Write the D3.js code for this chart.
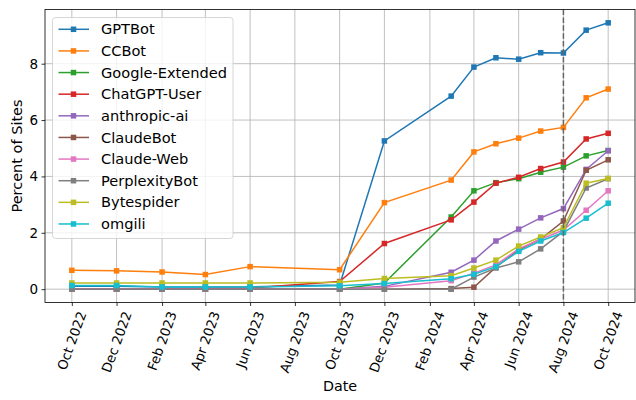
<!DOCTYPE html>
<html>
<head>
<meta charset="utf-8">
<script src="https://d3js.org/d3.v7.min.js"></script>
<style>
  body { margin: 0; background: #fff; }
  svg text { font-family: "DejaVu Sans", sans-serif; fill: #000; }
</style>
</head>
<body>
<svg id="chart" width="636" height="400"></svg>
<script>
// data
var dates = ["2022-10-01","2022-12-01","2023-02-01","2023-04-01","2023-06-01","2023-10-01","2023-12-01",
  "2024-03-01","2024-04-01","2024-05-01","2024-06-01","2024-07-01","2024-08-01","2024-09-01","2024-10-01"];

var seriesNames = ["GPTBot","CCBot","Google-Extended","ChatGPT-User","anthropic-ai","ClaudeBot","Claude-Web","PerplexityBot","Bytespider","omgili"];

var gptbot      = [0.10,0.10,0.08,0.08,0.08,0.15,5.26,6.85,7.88,8.21,8.16,8.39,8.38,9.19,9.45];
var ccbot       = [0.67,0.65,0.61,0.52,0.80,0.69,3.07,3.87,4.87,5.16,5.36,5.61,5.74,6.79,7.10];
var googleExt   = [0,0,0,0,0,0,0.22,2.56,3.49,3.78,3.92,4.15,4.33,4.73,4.92];
var chatgptUser = [0,0,0.01,0.02,0.04,0.27,1.62,2.46,3.09,3.76,3.97,4.28,4.51,5.33,5.53];
var anthropicAi = [0,0,0,0,0,0,0.10,0.60,1.03,1.71,2.13,2.53,2.86,4.25,4.91];
var claudeBot   = [0,0,0,0,0,0,0,0.02,0.07,0.78,1.40,1.78,2.42,4.22,4.59];
var claudeWeb   = [0,0,0,0,0,0,0.07,0.30,0.57,0.86,1.43,1.77,2.10,2.80,3.49];
var perplexity  = [0,0,0,0,0,0,0,0,0.43,0.75,0.97,1.43,2.05,3.59,3.92];
var bytespider  = [0.22,0.22,0.22,0.22,0.22,0.25,0.38,0.48,0.75,1.03,1.53,1.85,2.18,3.76,3.93];
var omgili      = [0.13,0.13,0.08,0.08,0.08,0.12,0.20,0.37,0.53,0.80,1.34,1.71,2.01,2.52,3.05];

var yTicks = [0,2,4,6,8];
var xTickDates = ["2022-10-01","2022-12-01","2023-02-01","2023-04-01","2023-06-01","2023-08-01","2023-10-01",
  "2023-12-01","2024-02-01","2024-04-01","2024-06-01","2024-08-01","2024-10-01"];
var markerDate = "2024-08-01";

var colors = ["#1f77b4","#ff7f0e","#2ca02c","#d62728","#9467bd","#8c564b","#e377c2","#7f7f7f","#bcbd22","#17becf"];
var allValues = [gptbot, ccbot, googleExt, chatgptUser, anthropicAi, claudeBot, claudeWeb, perplexity, bytespider, omgili];

var parse = d3.timeParse("%Y-%m-%d");
var dateObjs = dates.map(parse);
var xTicks = xTickDates.map(parse);

var series = seriesNames.map(function(n, i) {
  return { id: n, color: colors[i], values: allValues[i].map(function(v, j) { return { date: dateObjs[j], value: v }; }) };
});

var svg = d3.select("#chart");
var mLeft = 45, mRight = 635, mTop = 9.5, mBottom = 302.5;

// matplotlib-like 5% margins
var dMin = d3.min(dateObjs), dMax = d3.max(dateObjs);
var pad = (dMax - dMin) * 0.05;
var x = d3.scaleTime().domain([new Date(+dMin - pad), new Date(+dMax + pad)]).range([mLeft, mRight]);
var yMax = d3.max(allValues, function(a) { return d3.max(a); });
var yPad = yMax * 0.05;
var y = d3.scaleLinear().domain([-yPad, yMax + yPad]).range([mBottom, mTop]);

// grid
var grid = svg.append("g");
grid.selectAll(".vg").data(xTicks).enter().append("line")
  .attr("x1", function(d) { return x(d); }).attr("x2", function(d) { return x(d); })
  .attr("y1", mTop).attr("y2", mBottom)
  .attr("stroke", "#b0b0b0").attr("stroke-width", 0.8);
grid.selectAll(".hg").data(yTicks).enter().append("line")
  .attr("x1", mLeft).attr("x2", mRight)
  .attr("y1", function(d) { return y(d); }).attr("y2", function(d) { return y(d); })
  .attr("stroke", "#b0b0b0").attr("stroke-width", 0.8);

// series
var line = d3.line().x(function(d) { return x(d.date); }).y(function(d) { return y(d.value); });
var ms = 5.5;
series.forEach(function(s) {
  var g = svg.append("g");
  g.append("path").attr("d", line(s.values)).attr("fill", "none")
    .attr("stroke", s.color).attr("stroke-width", 1.5);
  g.selectAll("rect").data(s.values).enter().append("rect")
    .attr("x", function(d) { return x(d.date) - ms / 2; })
    .attr("y", function(d) { return y(d.value) - ms / 2; })
    .attr("width", ms).attr("height", ms)
    .attr("fill", s.color);
});

// dashed marker line
svg.append("line")
  .attr("x1", x(parse(markerDate))).attr("x2", x(parse(markerDate)))
  .attr("y1", mTop).attr("y2", mBottom)
  .attr("stroke", "#666").attr("stroke-width", 1.5).attr("stroke-dasharray", "5.5,2.4");

// axes
var xAxis = svg.append("g").attr("transform", "translate(0," + mBottom + ")")
  .call(d3.axisBottom(x).tickValues(xTicks).tickSize(3.5).tickFormat(""));
xAxis.select(".domain").remove();
xAxis.selectAll("line").attr("stroke", "#000").attr("stroke-width", 0.8);

var yAxis = svg.append("g").attr("transform", "translate(" + mLeft + ",0)")
  .call(d3.axisLeft(y).tickValues(yTicks).tickSize(3.5).tickPadding(3.5).tickFormat(d3.format("d")));
yAxis.select(".domain").remove();
yAxis.selectAll("line").attr("stroke", "#000").attr("stroke-width", 0.8);
yAxis.selectAll("text").attr("font-size", 13.5).attr("font-family", "DejaVu Sans");

// rotated x labels, bbox centred on tick
var fmt = d3.timeFormat("%b %Y");
var ang = 70 * Math.PI / 180;
xTicks.forEach(function(t) {
  var tx = svg.append("text").attr("font-size", 13.3).attr("text-anchor", "middle").attr("dy", "0.35em").text(fmt(t));
  var w = tx.node().getComputedTextLength();
  var ext = w * Math.sin(ang) + 15 * Math.cos(ang);
  tx.attr("transform", "translate(" + x(t) + "," + (mBottom + 7 + ext / 2) + ") rotate(-70)");
});

// frame
svg.append("rect").attr("x", mLeft).attr("y", mTop).attr("width", mRight - mLeft).attr("height", mBottom - mTop)
  .attr("fill", "none").attr("stroke", "#000").attr("stroke-width", 0.8);

// axis labels
svg.append("text").attr("x", (mLeft + mRight) / 2).attr("y", 391).attr("text-anchor", "middle")
  .attr("font-size", 14.3).text("Date");
svg.append("text").attr("transform", "translate(21.5," + (mTop + mBottom) / 2 + ") rotate(-90)")
  .attr("text-anchor", "middle").attr("font-size", 14.5).text("Percent of Sites");

// legend
var lg = svg.append("g");
lg.append("rect").attr("x", 52.5).attr("y", 17.5).attr("width", 180.5).attr("height", 221)
  .attr("rx", 3).attr("fill", "#fff").attr("fill-opacity", 0.8).attr("stroke", "#ccc").attr("stroke-width", 0.8);
series.forEach(function(s, i) {
  var cy = 29.3 + i * 21.63;
  lg.append("line").attr("x1", 58.5).attr("x2", 89).attr("y1", cy).attr("y2", cy)
    .attr("stroke", s.color).attr("stroke-width", 1.5);
  lg.append("rect").attr("x", 73.5 - ms / 2).attr("y", cy - ms / 2).attr("width", ms).attr("height", ms)
    .attr("fill", s.color);
  lg.append("text").attr("x", 101).attr("y", cy).attr("dy", "0.35em").attr("font-size", 14.6).text(s.id);
});
</script>
</body>
</html>
